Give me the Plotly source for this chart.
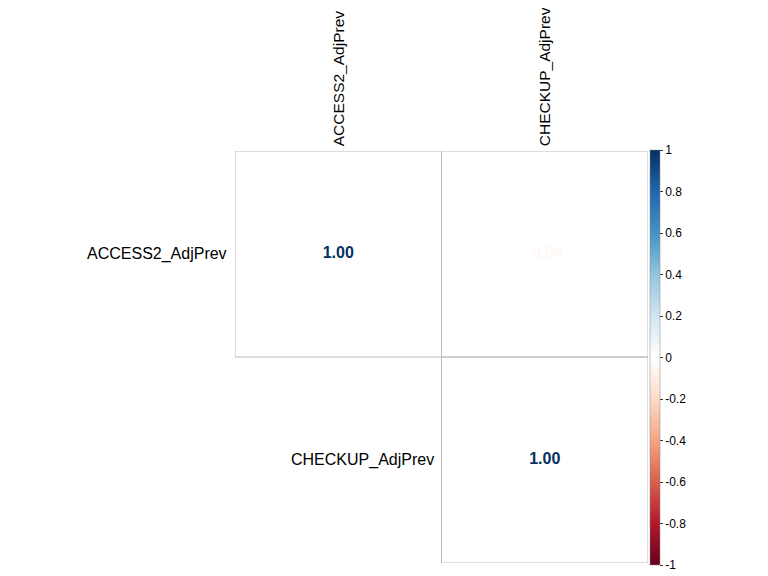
import plotly.graph_objects as go
from plotly.colors import sample_colorscale

# correlation matrix (upper triangle shown)
variables = ["ACCESS2_AdjPrev", "CHECKUP_AdjPrev"]
corr = [
    [1.00, -0.04],
    [-0.04, 1.00],
]
cbar_ticks = [-1, -0.8, -0.6, -0.4, -0.2, 0, 0.2, 0.4, 0.6, 0.8, 1]
cbar_labels = ["-1", "-0.8", "-0.6", "-0.4", "-0.2", "0", "0.2", "0.4", "0.6", "0.8", "1"]

# corrplot RdBu palette
rdbu = ["#67001F", "#B2182B", "#D6604D", "#F4A582", "#FDDBC7", "#FFFFFF",
        "#D1E5F0", "#92C5DE", "#4393C3", "#2166AC", "#053061"]
colorscale = [[i / (len(rdbu) - 1), c] for i, c in enumerate(rdbu)]

n = len(variables)
xs, ys, txt, cols = [], [], [], []
for i in range(n):
    for j in range(i, n):
        v = corr[i][j]
        xs.append(j)
        ys.append(i)
        txt.append(f"{v:.2f}")
        cols.append(sample_colorscale(colorscale, [(v + 1) / 2])[0])

fig = go.Figure()

# numbers
fig.add_trace(go.Scatter(
    x=xs, y=ys, mode="text", text=txt,
    texttemplate="<b>%{text}</b>",
    textposition="middle center",
    textfont=dict(color=cols, size=16, family="Liberation Sans, Arial"),
    cliponaxis=False, hoverinfo="skip", showlegend=False
))

# invisible trace for colour legend
fig.add_trace(go.Scatter(
    x=[0], y=[0], mode="markers",
    marker=dict(
        size=1, opacity=0, color=[0], colorscale=colorscale, cmin=-1, cmax=1,
        showscale=True,
        colorbar=dict(
            x=1.005, xanchor="left", xpad=0, thickness=10,
            len=1.005, y=0.5, yanchor="middle", ypad=0,
            outlinewidth=0.5, outlinecolor="#888888",
            tickvals=cbar_ticks, ticktext=cbar_labels,
            ticks="outside", ticklen=3, tickcolor="#333333",
            tickfont=dict(size=12, color="black", family="Liberation Sans, Arial"),
        ),
    ),
    hoverinfo="skip", showlegend=False
))

# cell borders
for i in range(n):
    for j in range(i, n):
        fig.add_shape(type="rect", x0=j - 0.5, x1=j + 0.5, y0=i - 0.5, y1=i + 0.5,
                      xref="x", yref="y", line=dict(color="#BEBEBE", width=1),
                      fillcolor="rgba(0,0,0,0)", layer="above")

# row labels
for i, name in enumerate(variables):
    fig.add_annotation(x=i - 0.5, y=i, xref="x", yref="y", text=name,
                       showarrow=False, xanchor="right", yanchor="middle", xshift=-6,
                       font=dict(size=16, color="black", family="Liberation Sans, Arial"))

# column labels
for j, name in enumerate(variables):
    fig.add_annotation(x=j, y=1, xref="x", yref="paper", text=name,
                       showarrow=False, textangle=-90, xanchor="center", yanchor="bottom",
                       yshift=3,
                       font=dict(size=15.5, color="black", family="Liberation Sans, Arial"))

# page body adds 8px margin, so the figure is a bit smaller than the window
fig.update_layout(
    width=760, height=568,
    margin=dict(l=227, r=120, t=143, b=12),
    paper_bgcolor="white", plot_bgcolor="white",
    xaxis=dict(range=[-0.5, n - 0.5], visible=False, fixedrange=True),
    yaxis=dict(range=[n - 0.5, -0.5], visible=False, fixedrange=True),
    showlegend=False,
)

fig.write_html("out.html")
